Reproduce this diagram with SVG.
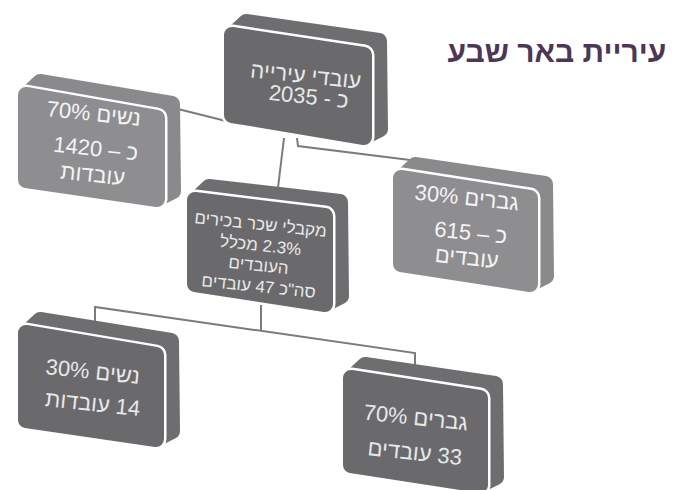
<svg xmlns="http://www.w3.org/2000/svg" width="677" height="490" viewBox="0 0 677 490">
<style>
.bk{stroke-width:16;stroke-linejoin:round}
.dk{fill:#6a6a6c;stroke:#6a6a6c}
.dkb{fill:#6e6e70;stroke:#6e6e70}
.lt{fill:#8e8e90;stroke:#8e8e90}
.ltb{fill:#8a8a8c;stroke:#8a8a8c}
.gap{fill:#fff;stroke:#fff;stroke-width:21;stroke-linejoin:round}
.t{font-family:"Liberation Sans","DejaVu Sans",sans-serif;text-anchor:middle;direction:rtl;unicode-bidi:embed}
.td{fill:#e8e8e8}
.tl{fill:#f4f4f4}
.conn{fill:none;stroke:#7b7b7b;stroke-width:2}
</style>
<rect width="677" height="490" fill="#fff"/>
<g id="connectors" class="conn">
<line x1="170" y1="107" x2="230" y2="122"/>
<line x1="284" y1="138" x2="277" y2="196"/>
<polyline points="297,138 298,146 410,160"/>
<line x1="261" y1="305" x2="261" y2="331"/>
<polyline points="95,322 95,307 415,353 415,368"/>
</g>
<g id="title">
<text class="t" x="557" y="62" font-size="30" font-weight="bold" fill="#4d3656">עיריית באר שבע</text>
</g>
<g id="box-city">
<polygon class="bk dkb" points="232,35 246,22 379,41 380,129 364,137 232,115"/>
<polygon class="gap" points="232,35 364,55 364,137 232,115"/>
<polygon class="bk dk" points="232,35 364,55 364,137 232,115"/>
<text class="t td" font-size="22" transform="rotate(6 305 83)" x="305" y="83">עובדי עירייה</text>
<text class="t td" font-size="22" transform="rotate(6 308 104)" x="308" y="104">כ - 2035</text>
</g>
<g id="box-women">
<polygon class="bk ltb" points="26,95 40,82 172,104 173,191 157,199 26,180"/>
<polygon class="gap" points="26,95 157,118 157,199 26,180"/>
<polygon class="bk lt" points="26,95 157,118 157,199 26,180"/>
<text class="t tl" font-size="22" transform="rotate(6 93 121)" x="93" y="121">נשים 70%</text>
<text class="t tl" font-size="22" transform="rotate(6 95 156)" x="95" y="156">כ – 1420</text>
<text class="t tl" font-size="22" transform="rotate(6 92 182)" x="92" y="182">עובדות</text>
</g>
<g id="box-men">
<polygon class="bk ltb" points="401,178 415,165 545,184 546,276 530,284 401,264"/>
<polygon class="gap" points="401,178 530,198 530,284 401,264"/>
<polygon class="bk lt" points="401,178 530,198 530,284 401,264"/>
<text class="t tl" font-size="22" transform="rotate(6 466 205)" x="466" y="205">גברים 30%</text>
<text class="t tl" font-size="22" transform="rotate(6 470 240)" x="470" y="240">כ – 615</text>
<text class="t tl" font-size="22" transform="rotate(6 466 265)" x="466" y="265">עובדים</text>
</g>
<g id="box-senior">
<polygon class="bk dkb" points="195,200 209,187 340,202 341,296 325,304 195,284"/>
<polygon class="gap" points="195,200 325,216 325,304 195,284"/>
<polygon class="bk dk" points="195,200 325,216 325,304 195,284"/>
<text class="t td" font-size="17" transform="rotate(6 260 230)" x="260" y="230">מקבלי שכר בכירים</text>
<text class="t td" font-size="17" transform="rotate(6 260 251)" x="260" y="251">2.3% מכלל</text>
<text class="t td" font-size="17" transform="rotate(6 258 271)" x="258" y="271">העובדים</text>
<text class="t td" font-size="17" transform="rotate(6 258 292)" x="258" y="292">סה"כ  47  עובדים</text>
</g>
<g id="box-senior-women">
<polygon class="bk dkb" points="26,333 40,320 171,341 172,431 156,439 26,420"/>
<polygon class="gap" points="26,333 156,355 156,439 26,420"/>
<polygon class="bk dk" points="26,333 156,355 156,439 26,420"/>
<text class="t td" font-size="22" transform="rotate(6 92 379)" x="92" y="379">נשים 30%</text>
<text class="t td" font-size="22" transform="rotate(6 92 411)" x="92" y="411">14 עובדות</text>
</g>
<g id="box-senior-men">
<polygon class="bk dkb" points="351,378 365,365 495,384 496,477 480,485 351,465"/>
<polygon class="gap" points="351,378 480,398 480,485 351,465"/>
<polygon class="bk dk" points="351,378 480,398 480,485 351,465"/>
<text class="t td" font-size="22" transform="rotate(6 415 425)" x="415" y="425">גברים 70%</text>
<text class="t td" font-size="22" transform="rotate(6 414 460)" x="414" y="460">33 עובדים</text>
</g>
</svg>
